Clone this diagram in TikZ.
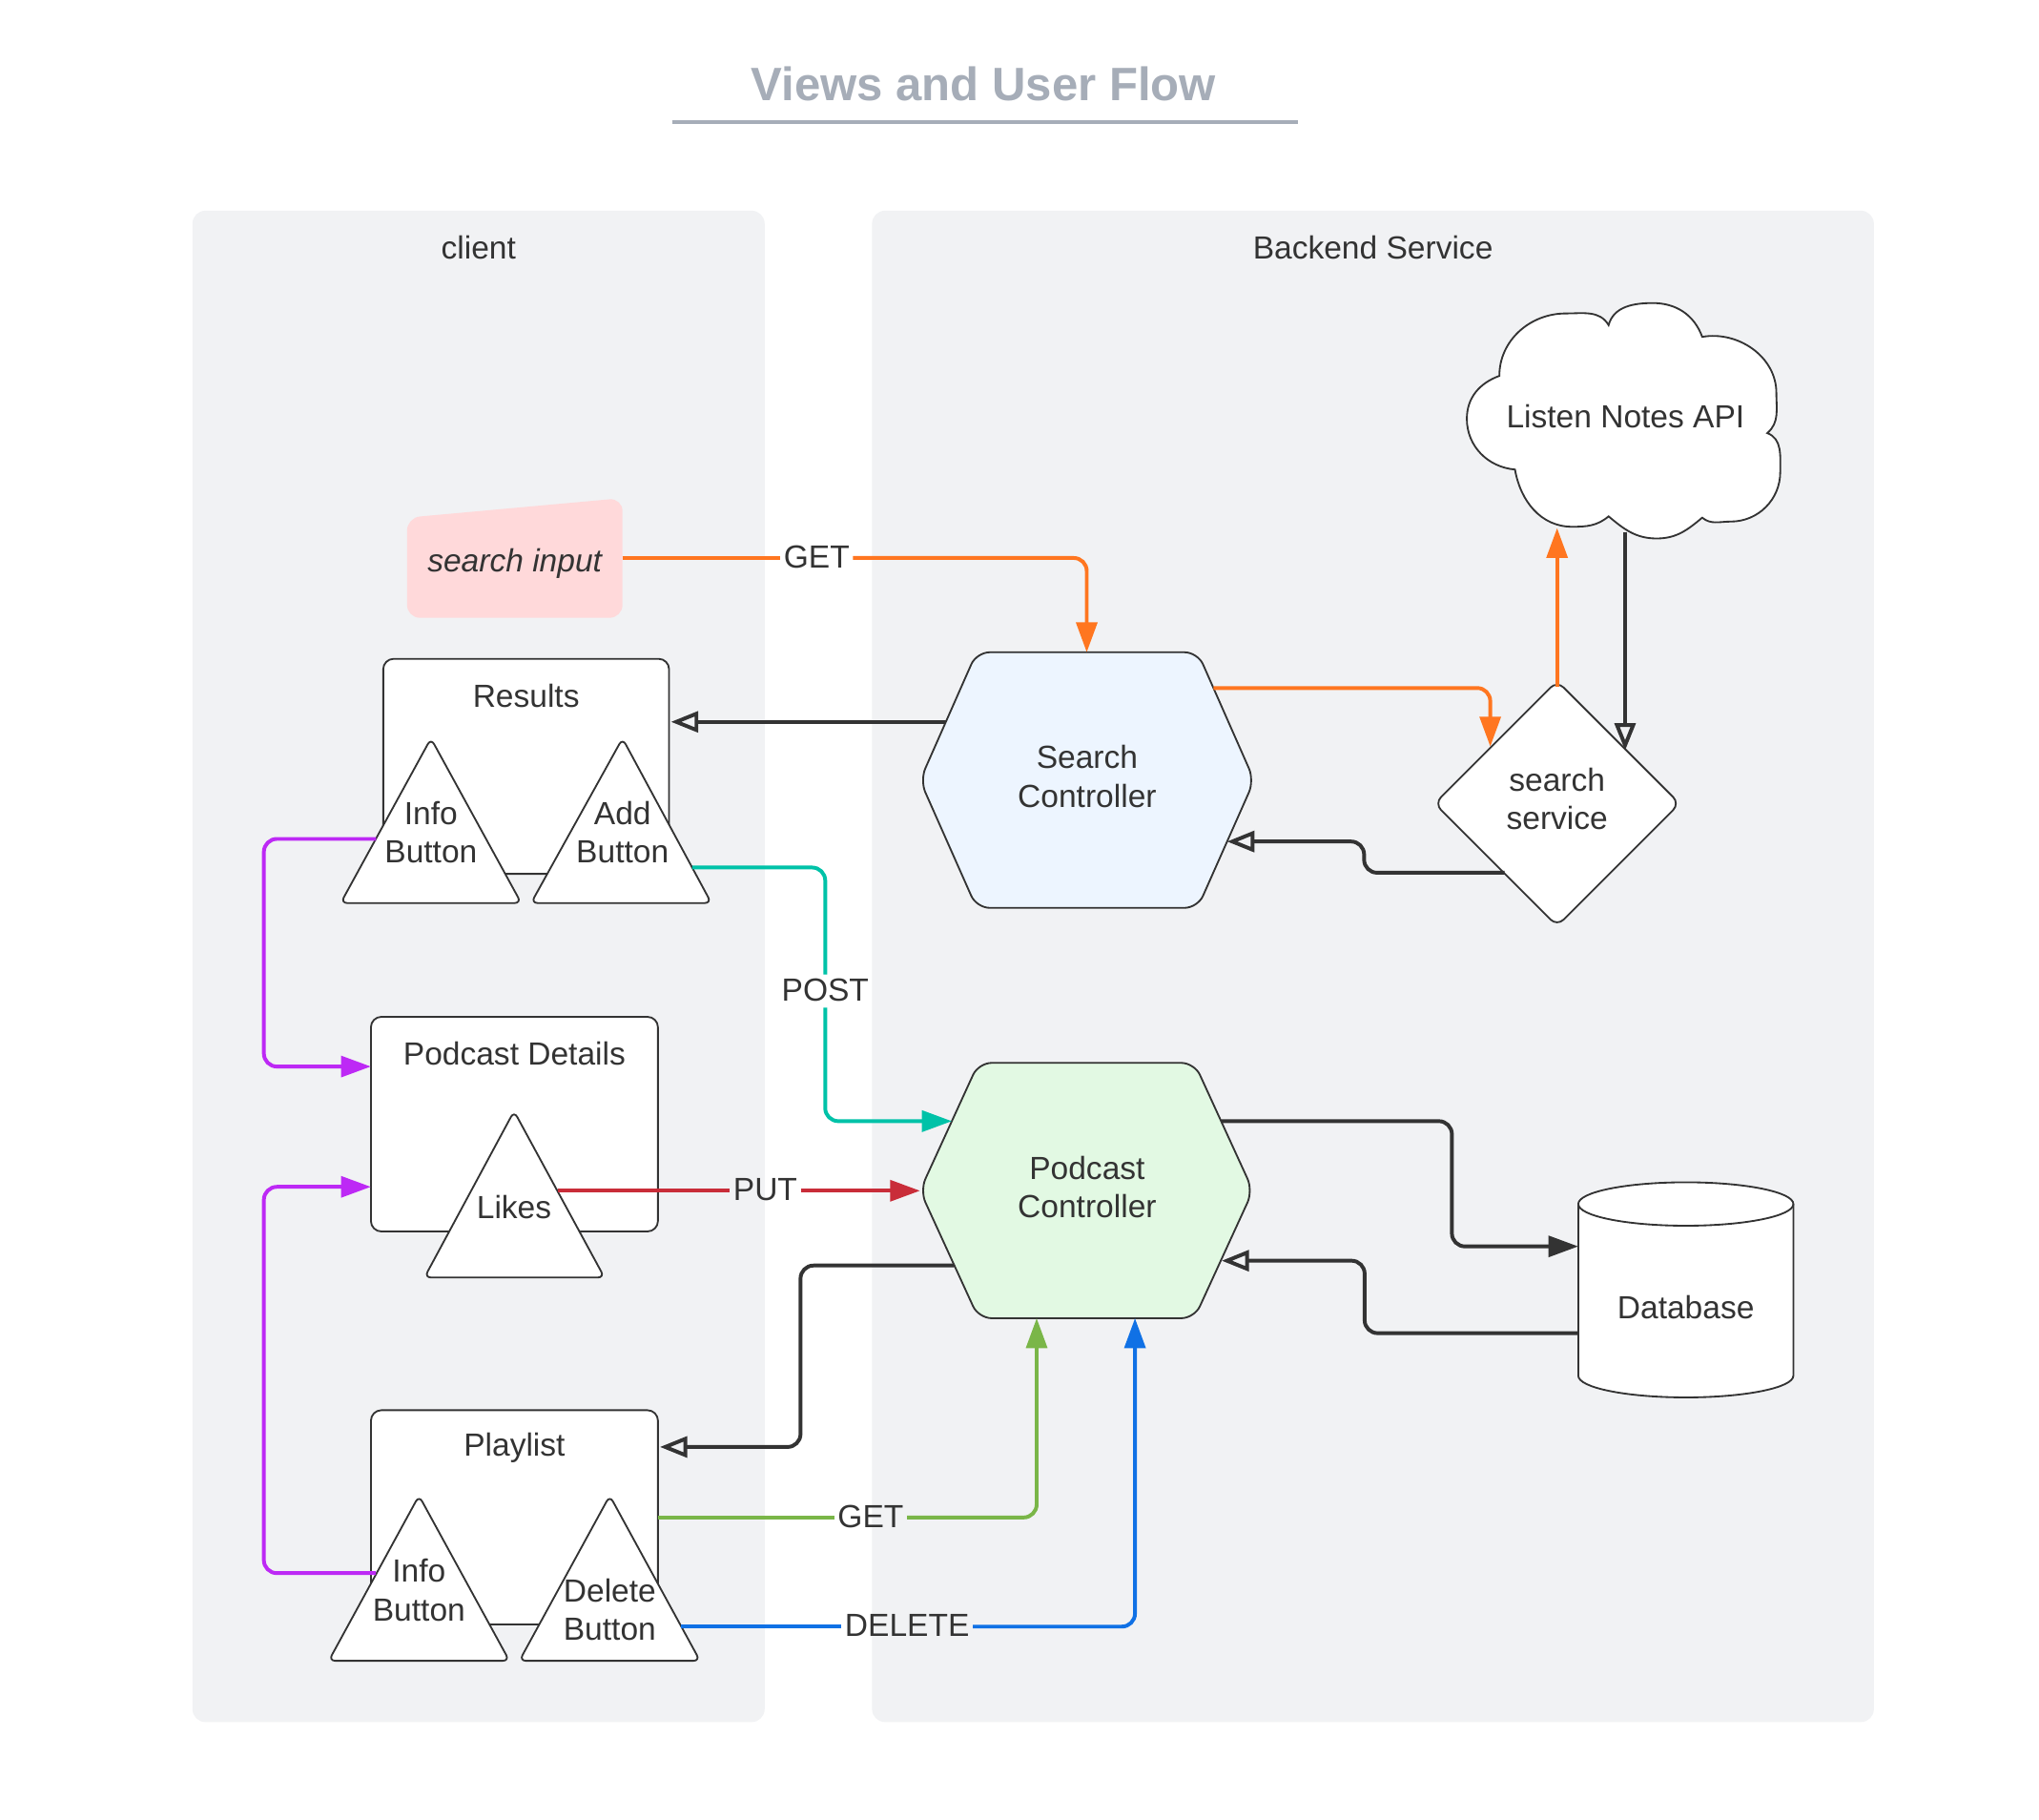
\documentclass[tikz,border=0pt]{standalone}
\usepackage{fontspec}
\setmainfont{Liberation Sans}
\usetikzlibrary{arrows.meta,shapes.geometric,calc}
\definecolor{panel}{HTML}{F1F2F4}
\definecolor{ink}{HTML}{333333}
\definecolor{titlegray}{HTML}{A6ADB8}
\definecolor{pinkfill}{HTML}{FFD9DA}
\definecolor{scfill}{HTML}{EDF5FF}
\definecolor{pcfill}{HTML}{E2F9E3}
\definecolor{orangec}{HTML}{FF7620}
\definecolor{tealc}{HTML}{00C2A8}
\definecolor{redc}{HTML}{C92D39}
\definecolor{greenc}{HTML}{7AB648}
\definecolor{bluec}{HTML}{1071E5}
\definecolor{purplec}{HTML}{BD29F5}
\tikzset{
  lbl/.style={font=\fontsize{24.6}{29.5}\selectfont, text=ink, align=center, inner sep=0pt},
  clbl/.style={lbl, text depth=0.2em, inner xsep=2.5pt, inner ysep=3pt},
  panelbox/.style={fill=panel, draw=none, rounded corners=10pt, inner sep=0pt},
  box/.style={draw=ink, fill=white, line width=1.35pt, rounded corners=8pt, inner sep=0pt},
  tri/.style={draw=ink, fill=white, line width=1.35pt, rounded corners=5pt},
  shapeline/.style={draw=ink, line width=1.35pt},
  conn/.style={line width=2.9pt, rounded corners=10pt},
  fillhead/.style={-{Triangle[length=23pt,width=16pt]}},
  openhead/.style={-{Triangle[open,length=21pt,width=16pt]}},
}
\begin{document}
\begin{tikzpicture}[x=1pt,y=1pt]
\useasboundingbox (0,0) rectangle (1568,-1399);
\fill[white] (0,0) rectangle (1568,-1399);

% title
\node[font=\fontsize{36}{43}\selectfont\bfseries, text=titlegray, inner sep=0pt] (title) at (756.4,-64.8) {Views and User Flow};
\coordinate (ul-a) at (517,-94);
\coordinate (ul-b) at (998,-94);
\draw[titlegray, line width=3pt] (ul-a) -- (ul-b);

% panels
\node[panelbox, minimum width=440pt, minimum height=1162pt] (clientpanel) at (368,-743) {};
\node[panelbox, minimum width=770.4pt, minimum height=1162pt] (backpanel) at (1055.8,-743) {};
\node[lbl] (clientlbl) at (368,-190) {client};
\node[lbl] (backlbl) at (1055.8,-190) {Backend Service};

% search input
\fill[pinkfill, rounded corners=10pt] (313,-398) -- (478.7,-383) -- (478.7,-475) -- (313,-475) -- cycle;
\node[lbl] (si) at (395.8,-433.5) {\itshape search input};

% boxes
\node[box, minimum width=219.8pt, minimum height=165.3pt] (results) at (404.6,-589.2) {};
\node[lbl] (restitle) at (404.6,-535) {Results};
\node[box, minimum width=220.7pt, minimum height=165pt] (pdbox) at (395.6,-864.3) {};
\node[lbl] (pdtitle) at (395.6,-810) {Podcast Details};
\node[box, minimum width=220.7pt, minimum height=164.7pt] (plbox) at (395.6,-1166.6) {};
\node[lbl] (pltitle) at (395.6,-1113) {Playlist};

% triangles
\draw[tri] (331.4,-567.7) -- (400.8,-694.3) -- (262,-694.3) -- cycle;
\node[lbl] (info1) at (331.4,-640) {Info\\Button};
\draw[tri] (478.7,-567.7) -- (547,-694.3) -- (408.4,-694.3) -- cycle;
\node[lbl] (add) at (478.7,-640) {Add\\Button};
\draw[tri] (395.3,-854.3) -- (464.8,-982.2) -- (326.4,-982.2) -- cycle;
\node[lbl] (likes) at (395.3,-928) {Likes};
\draw[tri] (322.2,-1149.9) -- (391.7,-1276.9) -- (252.8,-1276.9) -- cycle;
\node[lbl] (info2) at (322.2,-1222.6) {Info\\Button};
\draw[tri] (468.9,-1149.9) -- (538.3,-1276.9) -- (399.4,-1276.9) -- cycle;
\node[lbl] (delete) at (468.9,-1237.6) {Delete\\Button};

% hexagons
\draw[shapeline, fill=scfill, rounded corners=10pt] (751,-501.5) -- (921,-501.5) -- (964.5,-600) -- (921,-698) -- (751,-698) -- (707.5,-600) -- cycle;
\node[lbl] (sc) at (836,-597) {Search\\Controller};
\draw[shapeline, fill=pcfill, rounded corners=10pt] (752.5,-817.2) -- (918.5,-817.2) -- (963.5,-915.4) -- (918.5,-1013.5) -- (752.5,-1013.5) -- (707.5,-915.4) -- cycle;
\node[lbl] (pc) at (836,-912.5) {Podcast\\Controller};

% cloud
\draw[shapeline, fill=white] (1153,-289) to[out=90,in=180] (1204,-241) to[out=0,in=120] (1237,-250)
  to[out=75,in=180] (1271,-233) to[out=0,in=110] (1309,-259)
  to[out=10,in=90] (1366,-302) to[out=-90,in=40] (1359,-333)
  to[out=-20,in=90] (1369,-363) to[out=-90,in=0] (1331,-401) to[out=180,in=-40] (1309,-398)
  to[out=-140,in=0] (1274,-414) to[out=180,in=-40] (1237,-397)
  to[out=-140,in=0] (1209,-405) to[out=180,in=-80] (1165,-361)
  to[out=175,in=-90] (1128,-322) to[out=90,in=200] (1153,-289) -- cycle;
\node[lbl] (api) at (1250,-320) {Listen Notes API};

% diamond
\node[diamond, aspect=1, draw=ink, fill=white, line width=1.35pt, minimum width=189pt, minimum height=189pt, rounded corners=7pt, inner sep=0pt] (svc) at (1197.4,-617.8) {};
\node[lbl] (svc-t) at (1197.4,-614.5) {search\\service};

% database
\draw[shapeline, fill=white] (1213.7,-925.7) -- (1213.7,-1057.7) arc[start angle=180, end angle=360, x radius=82.7, y radius=16.7] -- (1379.1,-925.7) arc[start angle=0, end angle=180, x radius=82.7, y radius=16.7] -- cycle;
\draw[shapeline] (1213.7,-925.7) arc[start angle=180, end angle=360, x radius=82.7, y radius=16.7];
\node[lbl] (db) at (1296.4,-1005) {Database};

% attachment points
\coordinate (si-r) at (478.7,-429);
\coordinate (sc-n) at (835.7,-501.5);
\coordinate (sc-w) at (727.4,-555);
\coordinate (res-e) at (516,-555);
\coordinate (sc-ne) at (933.1,-529);
\coordinate (svc-nw) at (1146,-574);
\coordinate (svc-n) at (1197.4,-528);
\coordinate (api-s1) at (1197.4,-406);
\coordinate (api-s2) at (1249.7,-409);
\coordinate (svc-ne) at (1249.7,-577);
\coordinate (svc-sw) at (1157,-671);
\coordinate (sc-se) at (943.6,-647);
\coordinate (info1-w) at (289.2,-645);
\coordinate (pd-w1) at (285.2,-820);
\coordinate (pd-w2) at (285.2,-912.5);
\coordinate (info2-w) at (289,-1209.5);
\coordinate (add-e) at (532.3,-667);
\coordinate (pc-nw) at (732,-862);
\coordinate (likes-e) at (429,-915.5);
\coordinate (pc-w) at (707.5,-915.5);
\coordinate (pc-sw) at (733.9,-973);
\coordinate (pl-e1) at (507.5,-1112.5);
\coordinate (pl-e2) at (505.9,-1166.7);
\coordinate (pc-s1) at (797.2,-1013.5);
\coordinate (del-e) at (524,-1250.6);
\coordinate (pc-s2) at (872.8,-1013.5);
\coordinate (pc-ne) at (939,-862);
\coordinate (db-w1) at (1213.7,-958.3);
\coordinate (db-w2) at (1213.7,-1025);
\coordinate (pc-se) at (939.5,-969.3);

% connector labels
\node[clbl] (get1) at (628,-429) {GET};
\node[clbl] (post) at (634.6,-762) {POST};
\node[clbl] (put) at (588.5,-915.5) {PUT};
\node[clbl] (get2) at (669.5,-1166.7) {GET};
\node[clbl] (del) at (697.6,-1250.6) {DELETE};

% connectors
\draw[conn, orangec] (si-r) -- (get1.west);
\draw[conn, orangec, fillhead] (get1.east) -| (sc-n);
\draw[conn, ink, openhead] (sc-w) -- (res-e);
\draw[conn, orangec, fillhead] (sc-ne) -| (svc-nw);
\draw[conn, orangec, fillhead] (svc-n) -- (api-s1);
\draw[conn, ink, openhead] (api-s2) -- (svc-ne);
\draw[conn, ink, openhead] (svc-sw) -- ++(-108,0) |- (sc-se);
\draw[conn, purplec, fillhead] (info1-w) -- ++(-86.3,0) |- (pd-w1);
\draw[conn, purplec, fillhead] (info2-w) -- ++(-86.1,0) |- (pd-w2);
\draw[conn, tealc] (add-e) -| (post.north);
\draw[conn, tealc, fillhead] (post.south) |- (pc-nw);
\draw[conn, redc] (likes-e) -- (put.west);
\draw[conn, redc, fillhead] (put.east) -- (pc-w);
\draw[conn, ink, openhead] (pc-sw) -- ++(-118.3,0) |- (pl-e1);
\draw[conn, greenc] (pl-e2) -- (get2.west);
\draw[conn, greenc, fillhead] (get2.east) -| (pc-s1);
\draw[conn, bluec] (del-e) -- (del.west);
\draw[conn, bluec, fillhead] (del.east) -| (pc-s2);
\draw[conn, ink, fillhead] (pc-ne) -- ++(177.5,0) |- (db-w1);
\draw[conn, ink, openhead] (db-w2) -- ++(-164.3,0) |- (pc-se);
\end{tikzpicture}
\end{document}
